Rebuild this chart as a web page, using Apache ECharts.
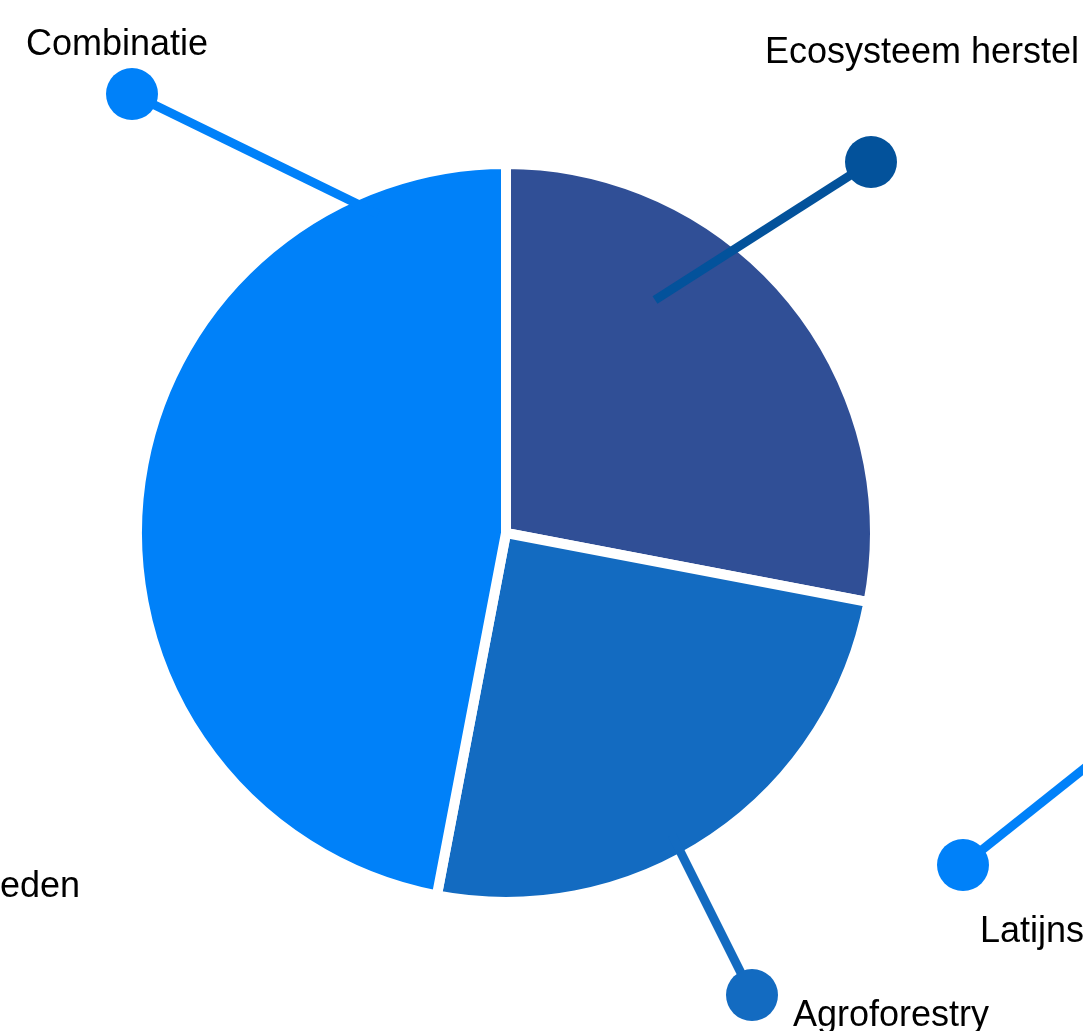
<!DOCTYPE html>
<html>
<head>
<meta charset="utf-8">
<script src="https://cdn.jsdelivr.net/npm/echarts@6/dist/echarts.min.js"></script>
<style>
  html, body { margin: 0; padding: 0; background: #fff; }
  #chart { width: 1083px; height: 1031px; }
</style>
</head>
<body>
<div id="chart"></div>
<script>
// slices of the pie
const categories = ['Ecosysteem herstel', 'Agroforestry', 'Combinatie']
const values = [28, 25, 47]
const sliceColors = ['#304f96', '#136bc1', '#0081f9']
const lineColors = ['#03529b', '#136bc1', '#0081f9']
// labels of neighbouring charts that are cut off by the frame
const sideLabels = ['eden', 'Latijns-Amerika']

// callout layout: line start inside slice, dot centre, label anchor
const callouts = [
  { from: [655, 300], dot: [871, 162], text: [765, 53] },
  { from: [672, 835], dot: [752, 995], text: [793, 1016] },
  { from: [378, 214], dot: [132, 94], text: [26, 45] }
]
const sideCallouts = [
  { text: [0, 887], line: null },
  { text: [980, 932], line: [[963, 865], [1095, 760]], dot: [963, 865], color: '#0081f9' }
]

const font = '36px "Liberation Sans", Arial, sans-serif'
const chart = echarts.init(document.getElementById('chart'))

const graphics = []
callouts.forEach(function (c, i) {
  graphics.push({
    type: 'line', z: 10,
    shape: { x1: c.from[0], y1: c.from[1], x2: c.dot[0], y2: c.dot[1] },
    style: { stroke: lineColors[i], lineWidth: 9 }
  })
  graphics.push({
    type: 'circle', z: 11,
    shape: { cx: c.dot[0], cy: c.dot[1], r: 26 },
    style: { fill: lineColors[i] }
  })
  graphics.push({
    type: 'text', z: 12, x: c.text[0], y: c.text[1],
    style: { text: categories[i], font: font, fill: '#000', textAlign: 'left', textVerticalAlign: 'middle' }
  })
})
sideCallouts.forEach(function (c, i) {
  if (c.line) {
    graphics.push({
      type: 'line', z: 10,
      shape: { x1: c.line[0][0], y1: c.line[0][1], x2: c.line[1][0], y2: c.line[1][1] },
      style: { stroke: c.color, lineWidth: 9 }
    })
    graphics.push({
      type: 'circle', z: 11,
      shape: { cx: c.dot[0], cy: c.dot[1], r: 26 },
      style: { fill: c.color }
    })
  }
  graphics.push({
    type: 'text', z: 12, x: c.text[0], y: c.text[1],
    style: { text: sideLabels[i], font: font, fill: '#000', textAlign: 'left', textVerticalAlign: 'middle' }
  })
})

chart.setOption({
  animation: false,
  backgroundColor: '#fff',
  series: [{
    type: 'pie',
    center: [506, 533],
    radius: 369,
    startAngle: 90,
    clockwise: true,
    label: { show: false },
    labelLine: { show: false },
    itemStyle: {
      borderColor: '#fff',
      borderWidth: 10
    },
    emphasis: { disabled: true },
    data: categories.map(function (name, i) {
      return { name: name, value: values[i], itemStyle: { color: sliceColors[i] } }
    })
  }],
  graphic: graphics
})
</script>
</body>
</html>
